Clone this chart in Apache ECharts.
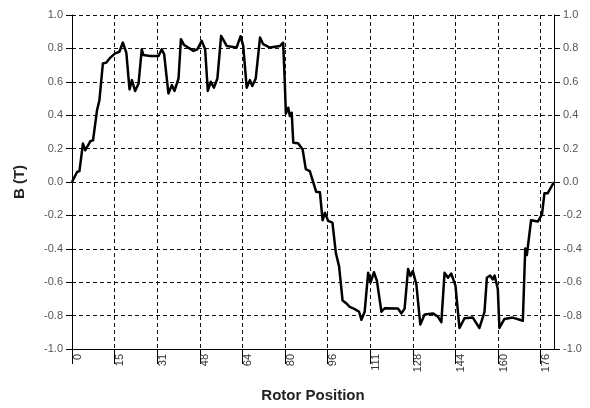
<!DOCTYPE html>
<html>
<head>
<meta charset="utf-8">
<script src="https://cdn.jsdelivr.net/npm/echarts@6/dist/echarts.min.js"></script>
<style>
  html, body { margin: 0; padding: 0; background: #ffffff; }
  #chart { width: 590px; height: 408px; }
</style>
</head>
<body>
<div id="chart"></div>
<script>
// Rotor position (x) and flux density B in tesla (y) along the air gap
const rotorPos = [
  0, 1.9, 2.8, 4.1, 5.0, 6.9, 7.9, 9.4, 10.3, 11.6, 12.9, 14.4, 16.2, 17.8, 19.1, 20.4,
  21.6, 22.5, 23.7, 25.0, 26.2, 26.8, 29.3, 32.5, 33.7, 34.6, 36.2, 37.5, 38.5, 40.0,
  40.9, 42.1, 45.6, 47.1, 48.7, 50.0, 51.0, 52.1, 53.3, 54.6, 56.0, 58.1, 61.8, 63.3,
  64.3, 65.6, 66.8, 67.7, 69.0, 70.6, 71.8, 74.3, 78.1, 79.3, 79.9, 80.3, 81.2, 81.8,
  82.5, 83.1, 84.9, 86.6, 87.8, 89.3, 91.7, 93.1, 94.1, 95.0, 96.2, 97.8, 99.1, 100.3,
  101.6, 103.1, 104.3, 106.2, 107.8, 108.7, 109.9, 111.2, 112.1, 113.4, 114.5, 116.2,
  117.4, 122.4, 123.7, 124.9, 126.2, 127.1, 128.0, 129.3, 130.8, 132.4, 135.5, 137.4,
  138.7, 139.9, 141.2, 142.4, 144.0, 145.5, 147.4, 150.5, 153.0, 154.9, 155.8, 157.0,
  158.0, 158.7, 159.9, 160.5, 162.4, 165.5, 169.3, 170.2, 170.8, 172.4, 174.9, 176.5,
  177.4, 178.6, 181
];
const fluxB = [
  0, 0.06, 0.065, 0.23, 0.19, 0.245, 0.25, 0.43, 0.49, 0.71, 0.715, 0.745, 0.77, 0.78, 0.835, 0.775,
  0.555, 0.61, 0.545, 0.59, 0.795, 0.76, 0.755, 0.755, 0.795, 0.765, 0.53, 0.58, 0.545, 0.62,
  0.855, 0.82, 0.785, 0.795, 0.845, 0.795, 0.545, 0.6, 0.565, 0.62, 0.875, 0.815, 0.805, 0.873,
  0.815, 0.565, 0.61, 0.575, 0.62, 0.865, 0.825, 0.805, 0.815, 0.834, 0.6, 0.41, 0.445, 0.395,
  0.415, 0.235, 0.232, 0.195, 0.077, 0.065, -0.059, -0.062, -0.229, -0.185, -0.233, -0.243, -0.427, -0.505,
  -0.709, -0.728, -0.748, -0.761, -0.777, -0.825, -0.777, -0.544, -0.602, -0.54, -0.592, -0.777,
  -0.756, -0.758, -0.787, -0.758, -0.521, -0.563, -0.534, -0.612, -0.854, -0.793, -0.787, -0.806,
  -0.839, -0.544, -0.573, -0.548, -0.621, -0.874, -0.816, -0.812, -0.874, -0.777, -0.573, -0.56,
  -0.583, -0.56, -0.641, -0.874, -0.82, -0.812, -0.831, -0.398, -0.437, -0.229, -0.237, -0.194,
  -0.068, -0.068, 0
];
// Labels shown at every 16th position step
const xTickLabels = ['0', '15', '31', '48', '64', '80', '96', '111', '128', '144', '160', '176'];
const xStep = 16;
const xMax = 181;

const seriesData = rotorPos.map((x, i) => [x, fluxB[i]]);

const font = 'Liberation Sans, Arial, sans-serif';
const titleStyle = { fontFamily: font, fontWeight: 'bold', fontSize: 15, color: '#222' };
const gridDash = { color: '#111', width: 1, type: [4, 3] };

const yAxisBase = {
  type: 'value',
  min: -1,
  max: 1,
  interval: 0.2,
  axisLine: { show: true, lineStyle: { color: '#000', width: 1 } },
  axisTick: { show: true, inside: false, length: 6, lineStyle: { color: '#000' } },
  axisLabel: {
    color: '#555',
    fontFamily: font,
    fontSize: 11,
    margin: 9,
    formatter: v => v.toFixed(1)
  }
};

const chart = echarts.init(document.getElementById('chart'), null, { renderer: 'canvas' });
chart.setOption({
  animation: false,
  backgroundColor: '#ffffff',
  grid: { left: 72, right: 36, top: 15, bottom: 50, containLabel: false },
  xAxis: {
    type: 'value',
    min: 0,
    max: xMax,
    interval: xStep,
    name: 'Rotor Position',
    nameLocation: 'middle',
    nameGap: 39,
    nameTextStyle: titleStyle,
    axisLine: { show: true, onZero: false, lineStyle: { color: '#000', width: 1 } },
    axisTick: { show: true, length: 15, lineStyle: { color: '#000' } },
    axisLabel: {
      rotate: 90,
      margin: 5,
      verticalAlign: 'top',
      color: '#333',
      fontFamily: font,
      fontSize: 11,
      showMaxLabel: false,
      formatter: v => (Math.abs(v % xStep) < 1e-6 ? xTickLabels[Math.round(v / xStep)] : '')
    },
    splitLine: { show: true, lineStyle: gridDash }
  },
  yAxis: [
    Object.assign({}, yAxisBase, {
      position: 'left',
      name: 'B (T)',
      nameLocation: 'middle',
      nameRotate: 90,
      nameGap: 45,
      nameTextStyle: titleStyle,
      splitLine: { show: true, lineStyle: gridDash }
    }),
    Object.assign({}, yAxisBase, {
      position: 'right',
      splitLine: { show: false }
    })
  ],
  series: [{
    type: 'line',
    data: seriesData,
    showSymbol: false,
    symbol: 'none',
    lineStyle: { color: '#000', width: 2.5, join: 'round' },
    z: 5
  }]
});
</script>
</body>
</html>
